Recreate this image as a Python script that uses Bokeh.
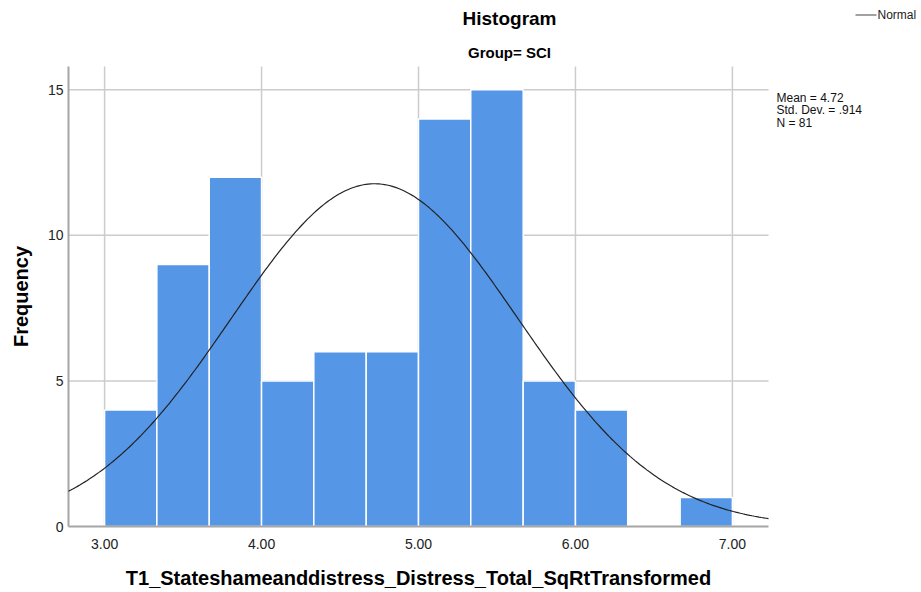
import numpy as np
from bokeh.plotting import figure
from bokeh.models import Label, BoxAnnotation, Range1d
from bokeh.core.properties import value
from bokeh.embed import file_html
from bokeh.resources import INLINE

# Histogram bins (width 1/3) and frequencies
bin_edges = [3.0, 3.333, 3.667, 4.0, 4.333, 4.667, 5.0, 5.333, 5.667, 6.0, 6.333, 6.667, 7.0]
counts = [4, 9, 12, 5, 6, 6, 14, 15, 5, 4, 0, 1]

# Summary statistics shown beside the chart
mean_val = 4.72
sd_val = 0.914
n_val = 81

x_ticks = [3, 4, 5, 6, 7]
x_tick_labels = ["3.00", "4.00", "5.00", "6.00", "7.00"]
y_ticks = [0, 5, 10, 15]
y_tick_labels = ["0", "5", "10", "15"]

FONT = "Liberation Sans"

# page and plotting-area geometry (pixels)
W, H = 921, 592
AL, AR, AT, AB = 68, 768, 66, 526
# visible data extent of the plotting area
X0, X1 = 2.77, 7.23
Y0, Y1 = 0.0, 15.8

# the canvas is one big frame; extend the ranges so the plotting area sits inside it
kx = (X1 - X0) / (AR - AL)
ky = (Y1 - Y0) / (AB - AT)
x_range = Range1d(X0 - AL * kx, X1 + (W - AR) * kx)
y_range = Range1d(Y0 - (H - AB) * ky, Y1 + AT * ky)


def sy(py):
    # screen units count upward from the bottom edge
    return H - py


p = figure(width=W, height=H, output_backend="svg", toolbar_location=None,
           x_range=x_range, y_range=y_range,
           min_border=0, min_border_left=0, min_border_right=0,
           min_border_top=0, min_border_bottom=0)
p.outline_line_color = None
p.axis.visible = False
p.grid.visible = False
p.background_fill_color = "white"

GRID = "#cccccc"
AXIS = "#a6a6a6"

# grid lines
p.segment(x0=x_ticks, x1=x_ticks, y0=[Y0] * len(x_ticks), y1=[Y1] * len(x_ticks),
          line_color=GRID, line_width=1.5)
p.segment(x0=[X0] * (len(y_ticks) - 1), x1=[X1] * (len(y_ticks) - 1),
          y0=y_ticks[1:], y1=y_ticks[1:], line_color=GRID, line_width=1.5)

# bars
p.quad(left=bin_edges[:-1], right=bin_edges[1:], bottom=0, top=counts,
       fill_color="#5596e6", line_color="white", line_width=1.5)

# axis lines
p.segment(x0=[X0, X0], x1=[X0, X1], y0=[Y0, Y0], y1=[Y1, Y0],
          line_color=AXIS, line_width=2)

# fitted normal curve scaled to counts
bw = bin_edges[1] - bin_edges[0]
xs = np.linspace(X0, X1, 300)
ys = n_val * bw / (sd_val * np.sqrt(2 * np.pi)) * np.exp(-0.5 * ((xs - mean_val) / sd_val) ** 2)
p.line(xs, ys, line_color="#222222", line_width=1.2)

# tick labels
p.text(x=x_ticks, y=[Y0] * len(x_ticks), text=x_tick_labels, y_offset=17,
       text_font=value(FONT), text_font_size="14px", text_color="#222222",
       text_align="center", text_baseline="middle")
p.text(x=[X0] * len(y_ticks), y=y_ticks, text=y_tick_labels, x_offset=-5,
       text_font=value(FONT), text_font_size="14px", text_color="#222222",
       text_align="right", text_baseline="middle")

# axis titles
p.add_layout(Label(x=(AL + AR) / 2, y=sy(577), x_units="screen", y_units="screen",
                   text="T1_Stateshameanddistress_Distress_Total_SqRtTransformed",
                   text_font=FONT, text_font_style="bold", text_font_size="20px",
                   text_align="center", text_baseline="middle", text_color="black"))
p.add_layout(Label(x=20, y=sy((AT + AB) / 2), x_units="screen", y_units="screen",
                   text="Frequency", angle=np.pi / 2,
                   text_font=FONT, text_font_style="bold", text_font_size="20px",
                   text_align="center", text_baseline="middle", text_color="black"))

# titles
p.add_layout(Label(x=509, y=sy(18), x_units="screen", y_units="screen",
                   text="Histogram", text_font=FONT, text_font_style="bold",
                   text_font_size="19px", text_align="center", text_baseline="middle",
                   text_color="black"))
p.add_layout(Label(x=509, y=sy(52), x_units="screen", y_units="screen",
                   text="Group= SCI", text_font=FONT, text_font_style="bold",
                   text_font_size="15px", text_align="center", text_baseline="middle",
                   text_color="black"))

# legend entry
p.add_layout(BoxAnnotation(left=855, right=876, bottom=sy(15), top=sy(14),
                           left_units="screen", right_units="screen",
                           bottom_units="screen", top_units="screen",
                           fill_color="#444444", fill_alpha=1, line_color=None))
p.add_layout(Label(x=877, y=sy(14), x_units="screen", y_units="screen",
                   text="Normal", text_font=FONT, text_font_size="12px",
                   text_baseline="middle", text_color="#222222"))

# statistics block
stats = [f"Mean = {mean_val:.2f}", f"Std. Dev. = .{int(round(sd_val * 1000))}", f"N = {n_val}"]
for i, s in enumerate(stats):
    p.add_layout(Label(x=776, y=sy(97 + 12.5 * i), x_units="screen", y_units="screen",
                       text=s, text_font=FONT, text_font_size="12px",
                       text_baseline="middle", text_color="#111111"))

open("out.html", "w").write(file_html(p, INLINE))
